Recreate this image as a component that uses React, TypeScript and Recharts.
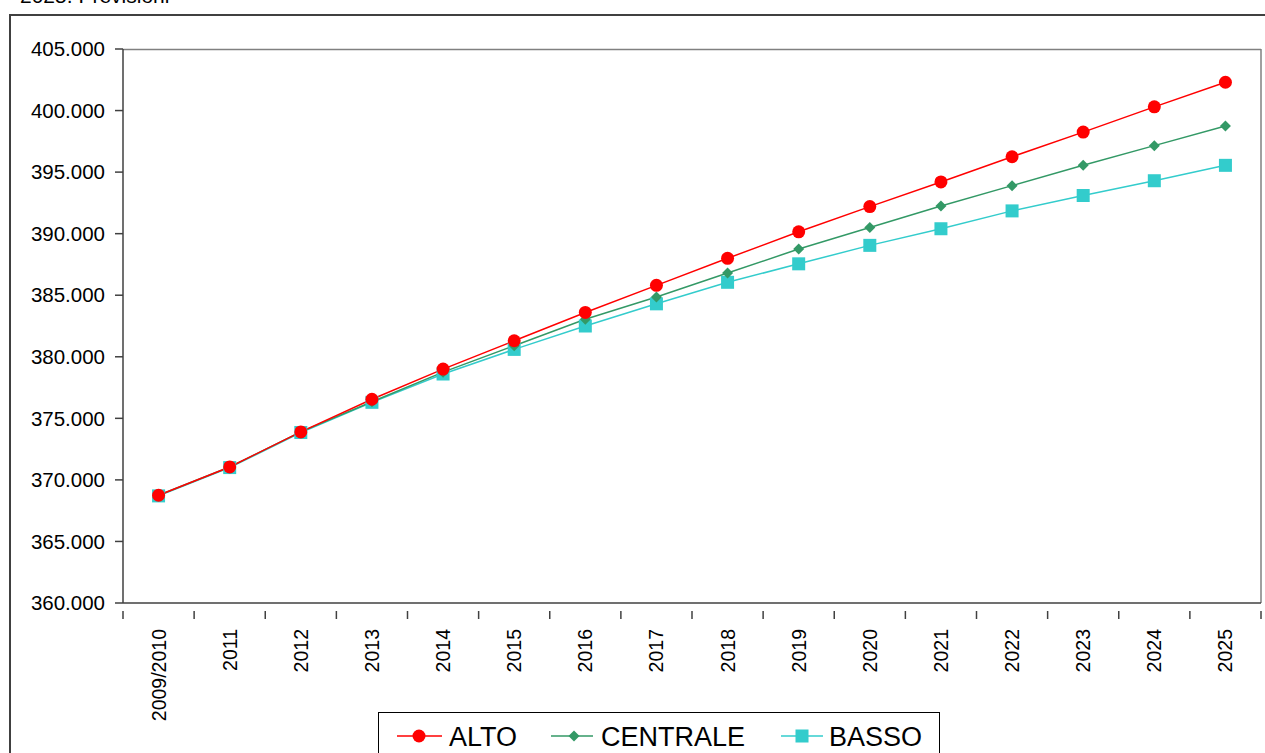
import { LineChart, Line, XAxis, YAxis, Legend } from 'recharts';

// anni di previsione
const anni = [
  '2009/2010', '2011', '2012', '2013', '2014', '2015', '2016', '2017',
  '2018', '2019', '2020', '2021', '2022', '2023', '2024', '2025',
];

// scenari
const alto = [
  368750, 371050, 373900, 376550, 379000, 381300, 383600, 385800,
  388000, 390150, 392200, 394200, 396250, 398250, 400300, 402300,
];
const centrale = [
  368750, 371050, 373900, 376350, 378750, 380900, 383050, 384850,
  386800, 388750, 390500, 392250, 393900, 395550, 397150, 398750,
];
const basso = [
  368700, 371000, 373850, 376300, 378600, 380600, 382500, 384300,
  386050, 387550, 389050, 390400, 391850, 393100, 394300, 395550,
];

const yTicks = [360000, 365000, 370000, 375000, 380000, 385000, 390000, 395000, 400000, 405000];

const chartData = anni.map((anno, i) => ({
  anno,
  ALTO: alto[i],
  CENTRALE: centrale[i],
  BASSO: basso[i],
}));

const FONT = 'Arial, "Liberation Sans", sans-serif';
const AXIS = '#404040';
const PLOT_LEFT = 123;
const PLOT_RIGHT = 1261;
const BAND = (PLOT_RIGHT - PLOT_LEFT) / anni.length;

const formatY = (v: number) => (v / 1000).toFixed(3);

// etichetta asse x ruotata + tacche tra le categorie
const XTick = (props: any) => {
  const { x, y, payload, index } = props;
  const last = index === anni.length - 1;
  return (
    <g>
      <line x1={x - BAND / 2} y1={y} x2={x - BAND / 2} y2={y + 8} stroke={AXIS} strokeWidth={1.5} />
      {last && <line x1={x + BAND / 2} y1={y} x2={x + BAND / 2} y2={y + 8} stroke={AXIS} strokeWidth={1.5} />}
      <text
        transform={`translate(${x + 7}, ${y + 18}) rotate(-90)`}
        textAnchor="end"
        fontSize={19.5}
        fontFamily={FONT}
        fill="#000"
      >
        {payload.value}
      </text>
    </g>
  );
};

const Diamond = (props: any) => {
  const { cx, cy } = props;
  if (cx == null || cy == null) return null;
  const r = 5.5;
  return (
    <path
      d={`M${cx},${cy - r}L${cx + r},${cy}L${cx},${cy + r}L${cx - r},${cy}Z`}
      fill="#339966"
    />
  );
};

const Square = (props: any) => {
  const { cx, cy } = props;
  if (cx == null || cy == null) return null;
  return <rect x={cx - 6.5} y={cy - 6.5} width={13} height={13} fill="#33CCCC" />;
};

const CustomLegend = () => (
  <div
    style={{
      position: 'absolute',
      left: 378,
      top: 712,
      width: 562,
      height: 60,
      border: '1px solid #000',
      boxSizing: 'border-box',
      background: '#fff',
    }}
  >
    <svg width={562} height={60} style={{ display: 'block' }}>
      <g fontFamily={FONT} fontSize={27} fill="#000">
        <line x1={18} y1={23} x2={63} y2={23} stroke="#FF0000" strokeWidth={1.5} />
        <circle cx={40} cy={23} r={6.5} fill="#FF0000" />
        <text x={70} y={33}>ALTO</text>
        <line x1={172} y1={23} x2={214} y2={23} stroke="#339966" strokeWidth={1.5} />
        <Diamond cx={195} cy={23} />
        <text x={222} y={33}>CENTRALE</text>
        <line x1={402} y1={23} x2={444} y2={23} stroke="#33CCCC" strokeWidth={1.5} />
        <Square cx={423} cy={23} />
        <text x={450} y={33}>BASSO</text>
      </g>
    </svg>
  </div>
);

export default function App() {
  return (
    <div
      style={{
        position: 'absolute',
        left: 0,
        top: 0,
        width: 1265,
        height: 753,
        overflow: 'hidden',
        background: '#fff',
        fontFamily: FONT,
      }}
    >
      {/* titolo tagliato in alto */}
      <div
        style={{
          position: 'absolute',
          left: 20,
          top: -15,
          fontSize: 21,
          lineHeight: '21px',
          color: '#000',
          whiteSpace: 'nowrap',
        }}
      >
        2025. Previsioni
      </div>
      {/* cornice esterna */}
      <div
        style={{
          position: 'absolute',
          left: 9,
          top: 14,
          width: 1270,
          height: 760,
          border: `2px solid ${AXIS}`,
          boxSizing: 'border-box',
        }}
      />
      <div style={{ position: 'absolute', left: 0, top: 0 }}>
        <LineChart
          width={1265}
          height={753}
          data={chartData}
          margin={{ top: 49, right: 1265 - PLOT_RIGHT, bottom: 0, left: 10 }}
        >
          {/* bordo area del grafico (alto e destra) */}
          <line x1={PLOT_LEFT} y1={49.5} x2={PLOT_RIGHT} y2={49.5} stroke="#808080" strokeWidth={1.5} />
          <line x1={PLOT_RIGHT} y1={49} x2={PLOT_RIGHT} y2={603} stroke="#808080" strokeWidth={1.5} />
          <XAxis
            dataKey="anno"
            scale="band"
            height={150}
            interval={0}
            tickLine={false}
            axisLine={{ stroke: AXIS, strokeWidth: 1.5 }}
            tick={<XTick />}
          />
          <YAxis
            width={113}
            domain={[360000, 405000]}
            ticks={yTicks}
            tickFormatter={formatY}
            interval={0}
            tickSize={8}
            tickMargin={10}
            axisLine={{ stroke: AXIS, strokeWidth: 1.5 }}
            tickLine={{ stroke: AXIS, strokeWidth: 1.5 }}
            tick={{ fill: '#000', fontSize: 20.5, fontFamily: FONT }}
          />
          <Line
            type="linear"
            dataKey="BASSO"
            stroke="#33CCCC"
            strokeWidth={1.5}
            dot={<Square />}
            activeDot={false}
            isAnimationActive={false}
          />
          <Line
            type="linear"
            dataKey="CENTRALE"
            stroke="#339966"
            strokeWidth={1.5}
            dot={<Diamond />}
            activeDot={false}
            isAnimationActive={false}
          />
          <Line
            type="linear"
            dataKey="ALTO"
            stroke="#FF0000"
            strokeWidth={1.5}
            dot={{ r: 6.5, fill: '#FF0000', stroke: 'none' }}
            activeDot={false}
            isAnimationActive={false}
          />
          <Legend content={<CustomLegend />} wrapperStyle={{ position: 'absolute', left: 0, top: 0, width: 0, height: 0 }} />
        </LineChart>
      </div>
    </div>
  );
}
